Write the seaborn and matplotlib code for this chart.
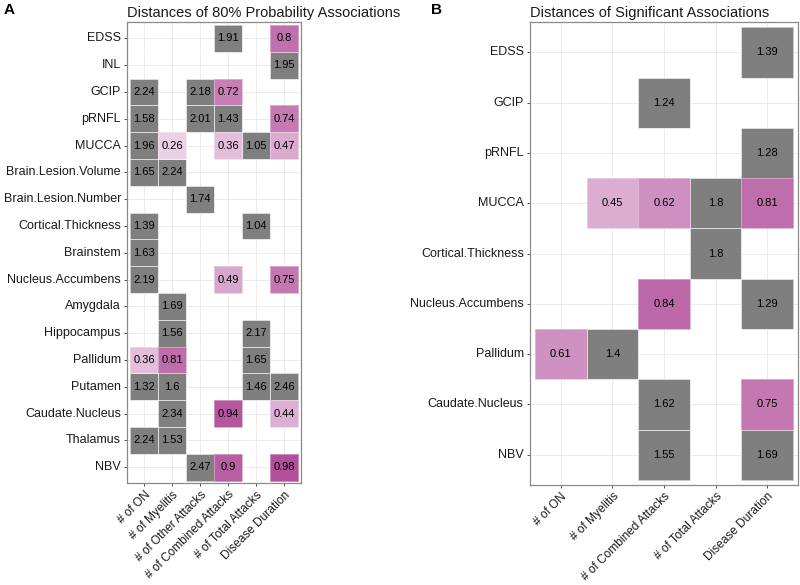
import numpy as np
import pandas as pd
import matplotlib
matplotlib.use("Agg")
import matplotlib.pyplot as plt
from matplotlib.colors import LinearSegmentedColormap, ListedColormap
import seaborn as sns

plt.rcParams["font.family"] = ["Liberation Sans", "DejaVu Sans"]

nan = np.nan

# ─── Panel A: 80% probability associations ────────────────────────
A_COLS = ["# of ON", "# of Myelitis", "# of Other Attacks",
          "# of Combined Attacks", "# of Total Attacks", "Disease Duration"]
A_ROWS = ["EDSS", "INL", "GCIP", "pRNFL", "MUCCA", "Brain.Lesion.Volume",
          "Brain.Lesion.Number", "Cortical.Thickness", "Brainstem",
          "Nucleus.Accumbens", "Amygdala", "Hippocampus", "Pallidum",
          "Putamen", "Caudate.Nucleus", "Thalamus", "NBV"]
A_VALUES = [
    [nan, nan, nan, 1.91, nan, 0.80],
    [nan, nan, nan, nan, nan, 1.95],
    [2.24, nan, 2.18, 0.72, nan, nan],
    [1.58, nan, 2.01, 1.43, nan, 0.74],
    [1.96, 0.26, nan, 0.36, 1.05, 0.47],
    [1.65, 2.24, nan, nan, nan, nan],
    [nan, nan, 1.74, nan, nan, nan],
    [1.39, nan, nan, nan, 1.04, nan],
    [1.63, nan, nan, nan, nan, nan],
    [2.19, nan, nan, 0.49, nan, 0.75],
    [nan, 1.69, nan, nan, nan, nan],
    [nan, 1.56, nan, nan, 2.17, nan],
    [0.36, 0.81, nan, nan, 1.65, nan],
    [1.32, 1.60, nan, nan, 1.46, 2.46],
    [nan, 2.34, nan, 0.94, nan, 0.44],
    [2.24, 1.53, nan, nan, nan, nan],
    [nan, nan, 2.47, 0.90, nan, 0.98],
]

# ─── Panel B: significant associations ────────────────────────────
B_COLS = ["# of ON", "# of Myelitis", "# of Combined Attacks",
          "# of Total Attacks", "Disease Duration"]
B_ROWS = ["EDSS", "GCIP", "pRNFL", "MUCCA", "Cortical.Thickness",
          "Nucleus.Accumbens", "Pallidum", "Caudate.Nucleus", "NBV"]
B_VALUES = [
    [nan, nan, nan, nan, 1.39],
    [nan, nan, 1.24, nan, nan],
    [nan, nan, nan, nan, 1.28],
    [nan, 0.45, 0.62, 1.80, 0.81],
    [nan, nan, nan, 1.80, nan],
    [nan, nan, 0.84, nan, 1.29],
    [0.61, 1.40, nan, nan, nan],
    [nan, nan, 1.62, nan, 0.75],
    [nan, nan, 1.55, nan, 1.69],
]

PINK = LinearSegmentedColormap.from_list("pink", ["#FFFFFF", "#B04C99"])
GRAY = ListedColormap(["#7F7F7F"])
TEXT = "#1a1a1a"


def tile_panel(ax, rows, cols, values, title):
    df = pd.DataFrame(values, index=rows, columns=cols)
    labels = df.map(lambda v: "" if pd.isna(v) else f"{v:g}")
    edge = (1, 1, 1, 0.35)
    kw = dict(cbar=False, fmt="", linewidths=0.6, linecolor=edge,
              annot_kws={"color": "black", "fontsize": 8}, ax=ax)
    sns.heatmap(df.where(df >= 1), cmap=GRAY, vmin=1, vmax=3,
                annot=labels.where(df >= 1, ""), **kw)
    sns.heatmap(df.where(df < 1), cmap=PINK, vmin=0, vmax=1,
                annot=labels.where(df < 1, ""), **kw)

    nr, nc = df.shape
    ax.set_xlim(-0.1, nc + 0.1)
    ax.set_ylim(nr + 0.1, -0.1)
    ax.set_xticks(np.arange(nc) + 0.5)
    ax.set_yticks(np.arange(nr) + 0.5)
    ax.set_xticklabels(cols, rotation=45, ha="right", rotation_mode="anchor")
    ax.set_yticklabels(rows, rotation=0)
    ax.set_xlabel("")
    ax.set_ylabel("")
    ax.set_axisbelow(True)
    ax.grid(True, color="#EBEBEB", linewidth=0.7)
    for s in ax.spines.values():
        s.set_visible(True)
        s.set_color("#8a8a8a")
        s.set_linewidth(0.9)
    ax.tick_params(length=2.5, width=0.6, color="#333333", labelsize=9,
                   labelcolor=TEXT, pad=2)
    ax.tick_params(axis="x", labelsize=8.6, pad=1.5)
    ax.set_title(title, loc="left", fontsize=10.5, color=TEXT, pad=4)


fig = plt.figure(figsize=(8, 5.85), dpi=100)
axA = fig.add_axes([0.159, 0.174, 0.217, 0.788])
axB = fig.add_axes([0.6625, 0.171, 0.335, 0.791])

tile_panel(axA, A_ROWS, A_COLS, A_VALUES, "Distances of 80% Probability Associations")
tile_panel(axB, B_ROWS, B_COLS, B_VALUES, "Distances of Significant Associations")

fig.text(0.004, 0.995, "A", fontsize=11, fontweight="bold", va="top", ha="left")
fig.text(0.539, 0.995, "B", fontsize=11, fontweight="bold", va="top", ha="left")

fig.savefig("out.png", dpi=100)
